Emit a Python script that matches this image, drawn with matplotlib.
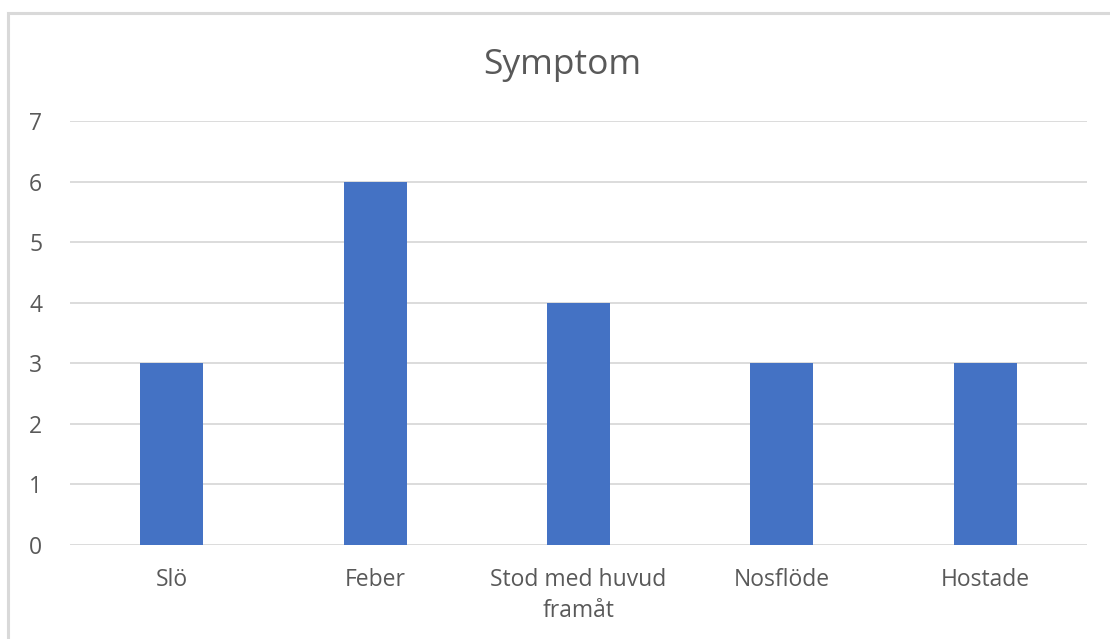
import matplotlib.pyplot as plt
from matplotlib.patches import Rectangle

categories = ["Slö", "Feber", "Stod med huvud\nframåt", "Nosflöde", "Hostade"]
values = [3, 6, 4, 3, 3]
yticks = [0, 1, 2, 3, 4, 5, 6, 7]

plt.rcParams['font.family'] = ['Open Sans', 'DejaVu Sans']

fig = plt.figure(figsize=(11.1, 6.39), dpi=100)
ax = fig.add_axes([70 / 1110, 1 - 545 / 639, 1017 / 1110, 424 / 639])

x = range(len(categories))
ax.bar(x, values, width=0.31, color="#4472c4", zorder=3)

ax.set_xlim(-0.5, len(categories) - 0.5)
ax.set_ylim(0, 7)
ax.set_yticks(yticks)
ax.set_xticks(list(x))
ax.set_xticklabels(categories, fontsize=16.5, color="#595959", linespacing=1.42)
ax.set_yticklabels([str(t) for t in yticks], fontsize=16.5, color="#595959")
ax.tick_params(axis="both", length=0)
ax.tick_params(axis="y", pad=20)
ax.tick_params(axis="x", pad=16.5)

ax.grid(axis="y", color="#d9d9d9", linewidth=1.3, zorder=0)
for s in ax.spines.values():
    s.set_visible(False)

fig.text(0.5063, 1 - 65 / 639, "Symptom", ha="center", va="center",
         fontsize=25.5, color="#595959")

# chart border
border = Rectangle((8 / 1110, -0.1), 1.2, 1 - 13 / 639 + 0.1, transform=fig.transFigure,
                   fill=False, edgecolor="#d9d9d9", linewidth=2.2, clip_on=False)
fig.patches.append(border)

fig.savefig("out.png", dpi=100)
